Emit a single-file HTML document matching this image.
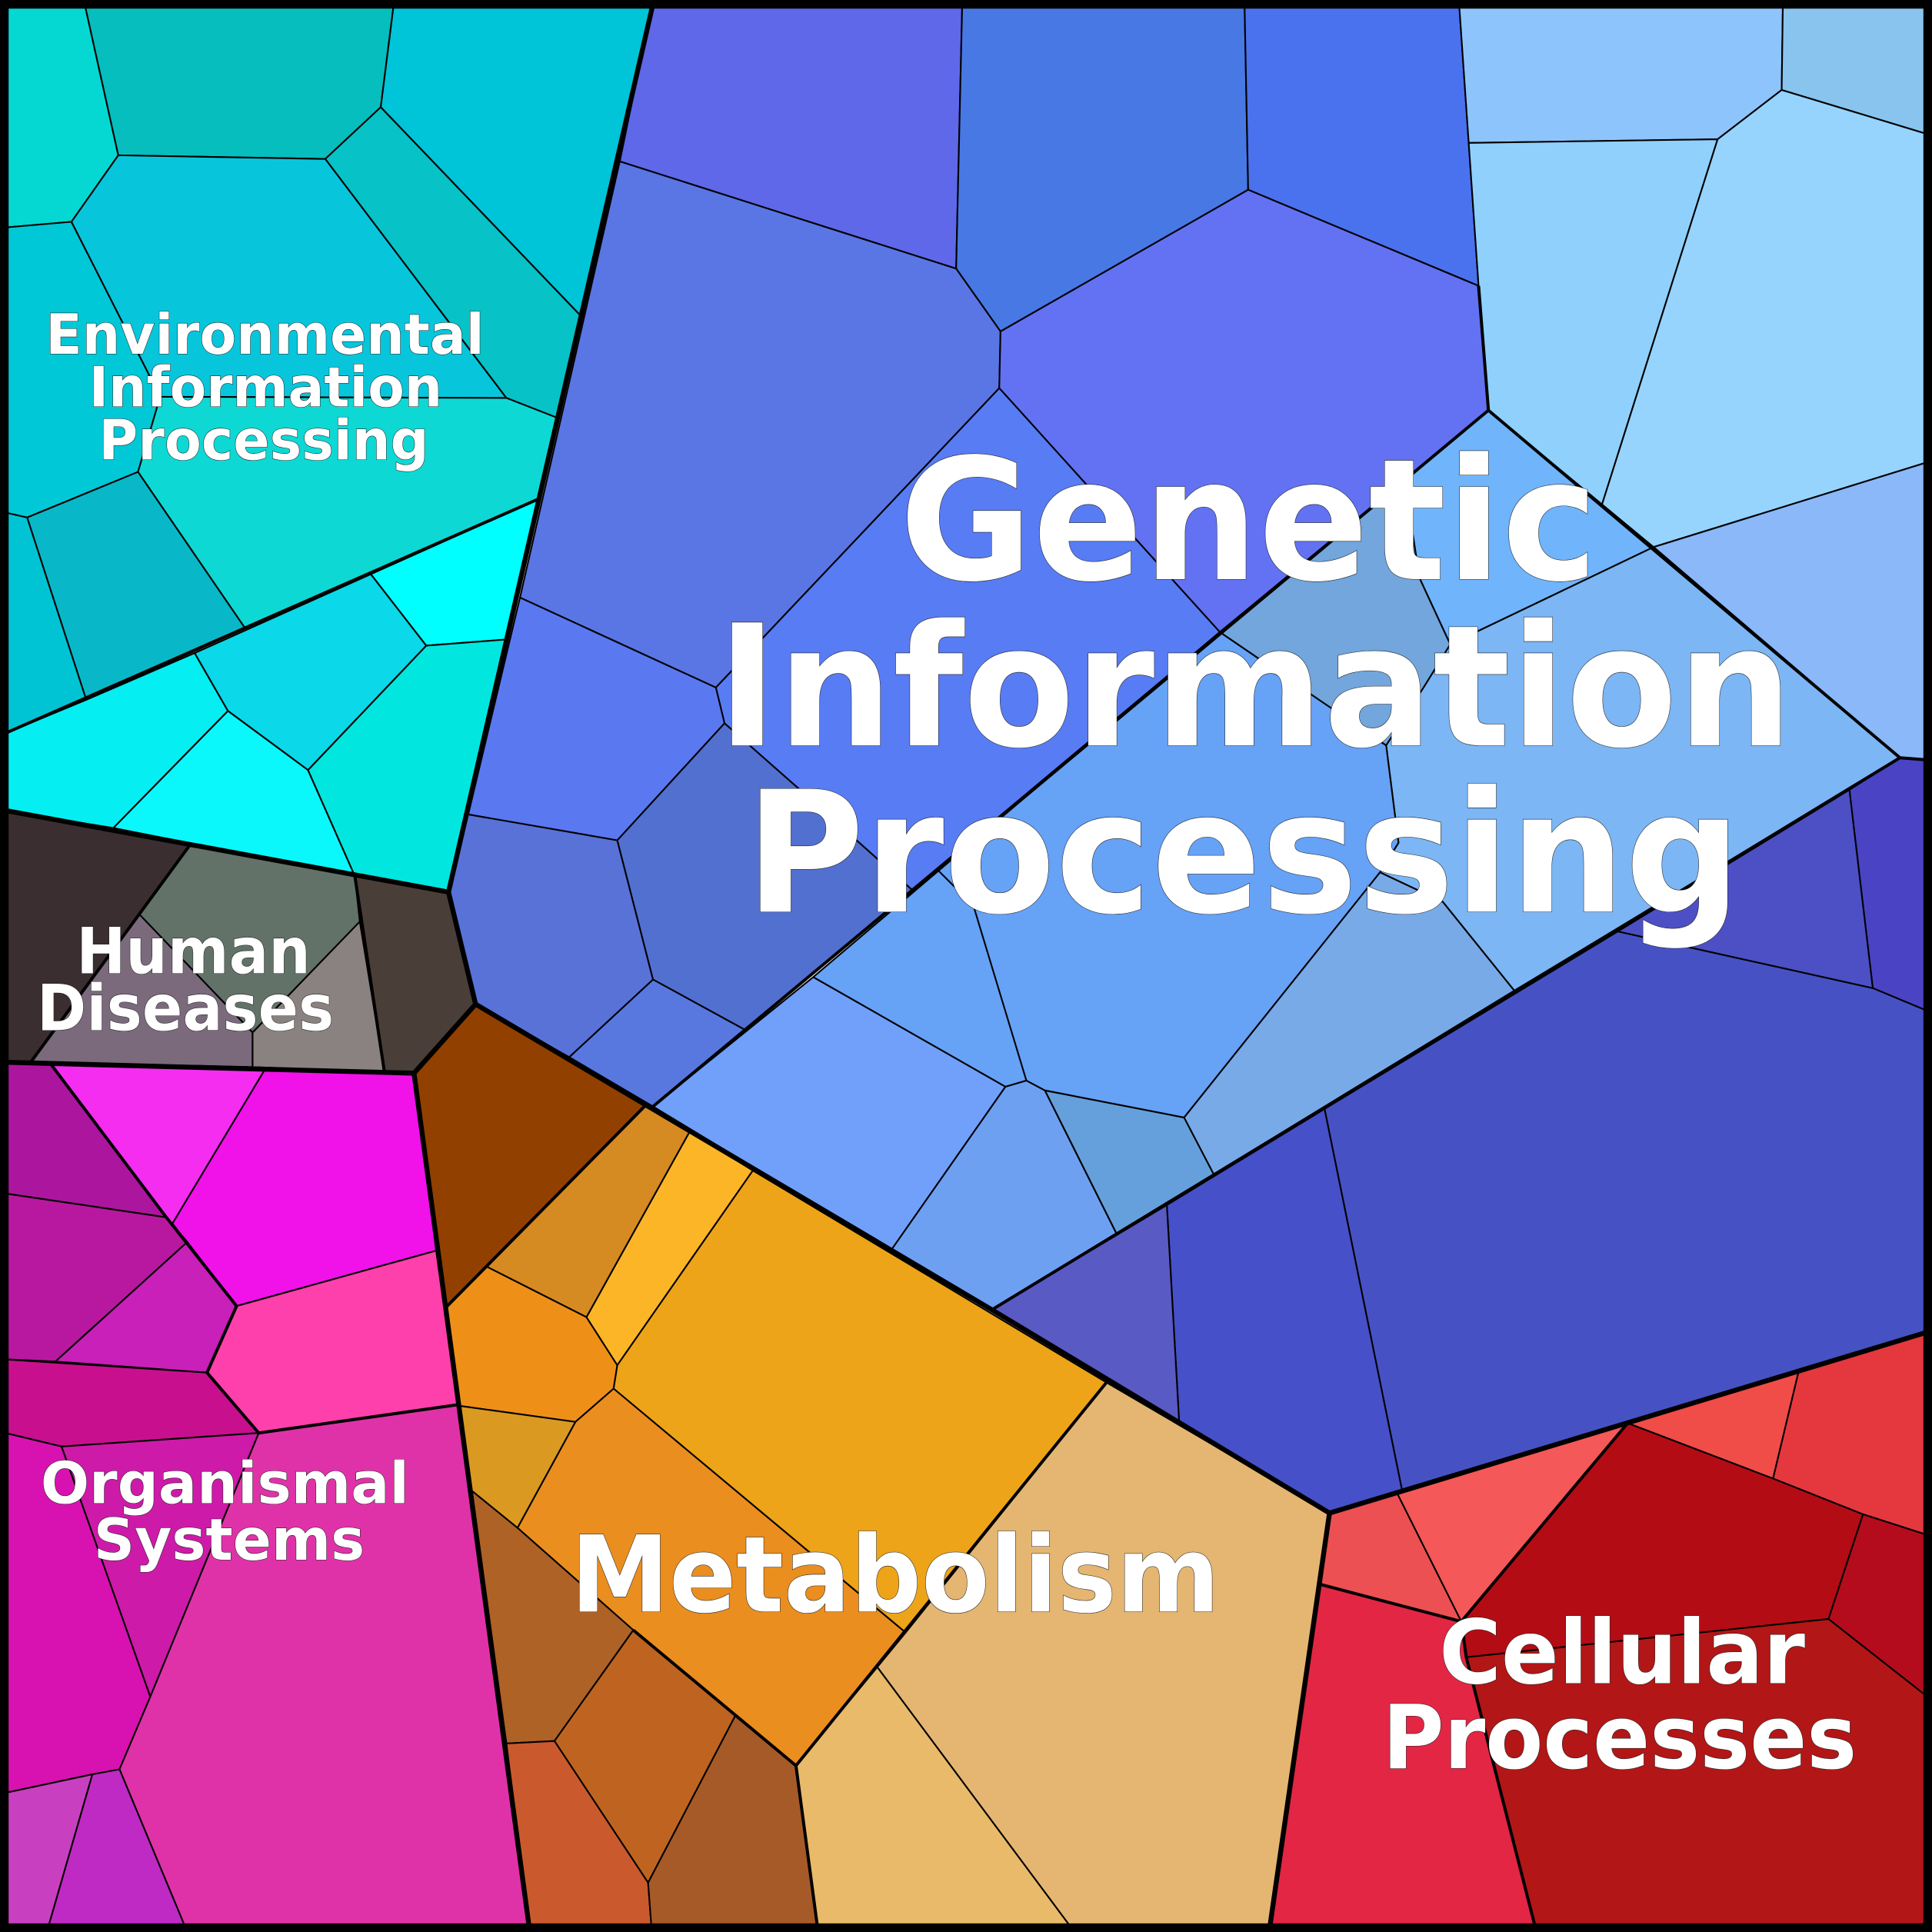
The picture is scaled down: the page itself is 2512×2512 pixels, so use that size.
<!DOCTYPE html>
<html><head><meta charset="utf-8"><style>html,body{margin:0;padding:0;background:#fff}svg{display:block}</style></head><body>
<svg xmlns="http://www.w3.org/2000/svg" width="2512" height="2512" viewBox="0 0 1568 1568">
<g stroke="#000" stroke-width="1.3" stroke-linejoin="round">
<polygon fill="#05d8d2" points="0,0 68,0 96,126 58,180 0,185"/>
<polygon fill="#06bebe" points="68,0 320,0 309,87 264,129 96,126"/>
<polygon fill="#00c4d8" points="320,0 530,0 471,256 309,87"/>
<polygon fill="#00c8d6" points="0,185 58,180 130,322 112,383 22,420 0,415"/>
<polygon fill="#07c6dc" points="58,180 96,126 264,129 411,323 130,322"/>
<polygon fill="#07c2c6" points="264,129 309,87 471,256 452,339 411,323"/>
<polygon fill="#0ed8d4" points="130,322 411,323 452,339 437,405 199,510 112,383"/>
<polygon fill="#08b8c8" points="22,420 112,383 199,510 70,568"/>
<polygon fill="#00c4d4" points="0,415 22,420 70,568 0,597"/>
<polygon fill="#05eef2" points="0,597 70,568 158,530 185,577 92,672 0,657"/>
<polygon fill="#0bd8e8" points="158,530 301,466 346,524 250,625 185,577"/>
<polygon fill="#00ffff" points="301,466 437,405 411,519 346,524"/>
<polygon fill="#0af8fc" points="92,672 185,577 250,625 288,711"/>
<polygon fill="#02e6e0" points="250,625 346,524 411,519 364,724 288,711"/>
<polygon fill="#3a2e30" points="0,657 154,686 25,862 0,862"/>
<polygon fill="#627268" points="154,686 288,711 292,748 205,838 113,742"/>
<polygon fill="#7a6a7c" points="25,862 113,742 205,838 205,866"/>
<polygon fill="#8a8280" points="205,838 292,748 312,870 205,866"/>
<polygon fill="#4a3e38" points="288,711 364,724 386,815 336,871 312,870"/>
<polygon fill="#ac169e" points="0,862 40,862 135,988 0,968"/>
<polygon fill="#f42df0" points="40,862 215,868 140,993 135,988"/>
<polygon fill="#f012e8" points="215,868 336,871 354,1015 192,1060 140,993"/>
<polygon fill="#b8189f" points="0,968 135,988 152,1008 45,1105 0,1103"/>
<polygon fill="#c820b8" points="152,1008 192,1060 168,1114 45,1105"/>
<polygon fill="#fe40ac" points="192,1060 354,1015 372,1140 210,1163 168,1114"/>
<polygon fill="#c8108e" points="0,1103 168,1114 210,1163 50,1174 0,1162"/>
<polygon fill="#d812b0" points="0,1162 50,1174 122,1377 97,1436 0,1456"/>
<polygon fill="#ce1aa8" points="50,1174 210,1163 122,1377"/>
<polygon fill="#e032a8" points="210,1163 372,1140 430,1568 152,1568 97,1436 122,1377"/>
<polygon fill="#c840c0" points="0,1456 75,1440 38,1568 0,1568"/>
<polygon fill="#c02ac4" points="75,1440 97,1436 152,1568 38,1568"/>
<polygon fill="#924000" points="336,871 386,815 524,897 395,1028 362,1061"/>
<polygon fill="#d68a22" points="524,897 560,918 476,1069 395,1028"/>
<polygon fill="#ee9018" points="362,1061 395,1028 476,1069 501,1108 498,1127 467,1154 373,1141"/>
<polygon fill="#fdb528" points="560,918 611,950 501,1108 476,1069"/>
<polygon fill="#eea418" points="611,950 898,1122 735,1325 498,1127 501,1108"/>
<polygon fill="#ea8e20" points="467,1154 498,1127 735,1325 646,1433 514,1323 420,1240"/>
<polygon fill="#e4b672" points="898,1122 1079,1228 1030,1568 872,1568 712,1353 735,1325"/>
<polygon fill="#e8ba6a" points="712,1353 872,1568 664,1568 646,1433"/>
<polygon fill="#da9a22" points="373,1141 467,1154 420,1240 383,1210"/>
<polygon fill="#ae6226" points="383,1210 420,1240 514,1323 450,1413 411,1415"/>
<polygon fill="#be6420" points="450,1413 514,1323 597,1392 526,1528"/>
<polygon fill="#ca5a2e" points="411,1415 450,1413 526,1528 529,1568 430,1568"/>
<polygon fill="#a65a28" points="526,1528 597,1392 646,1433 664,1568 529,1568"/>
<polygon fill="#ec5052" points="1079,1228 1134,1212 1186,1316 1072,1286"/>
<polygon fill="#f45858" points="1134,1212 1321,1155 1186,1316"/>
<polygon fill="#f04c48" points="1321,1155 1460,1112 1439,1200"/>
<polygon fill="#e4383e" points="1460,1112 1568,1080 1568,1247 1512,1229 1439,1200"/>
<polygon fill="#b40c14" points="1321,1155 1439,1200 1512,1229 1484,1314 1190,1345 1186,1316"/>
<polygon fill="#b40c1c" points="1512,1229 1568,1247 1568,1380 1484,1314"/>
<polygon fill="#e22644" points="1072,1286 1186,1316 1190,1345 1247,1568 1030,1568"/>
<polygon fill="#b21616" points="1190,1345 1484,1314 1568,1380 1568,1568 1247,1568"/>
<polygon fill="#5e68e8" points="530,0 781,0 776,218 503,131"/>
<polygon fill="#4878e4" points="781,0 1010,0 1013,154 812,269 776,218"/>
<polygon fill="#4a72ee" points="1010,0 1184,0 1200,232 1013,154"/>
<polygon fill="#8ec4fc" points="1184,0 1447,0 1446,73 1394,113 1192,116"/>
<polygon fill="#88c4ee" points="1447,0 1568,0 1568,110 1446,73"/>
<polygon fill="#90d0fc" points="1192,116 1394,113 1300,410 1208,333 1200,232"/>
<polygon fill="#96d4fe" points="1394,113 1446,73 1568,110 1568,374 1342,444 1300,410"/>
<polygon fill="#8ab8f8" points="1342,444 1568,374 1568,617 1542,615"/>
<polygon fill="#5a76e4" points="503,131 776,218 812,269 811,315 581,558 422,485"/>
<polygon fill="#6272f2" points="812,269 1013,154 1200,232 1208,333 990,513 811,315"/>
<polygon fill="#587cf4" points="811,315 990,513 740,722 647,639 588,587 581,558"/>
<polygon fill="#5a78f0" points="422,485 581,558 588,587 501,682 380,661"/>
<polygon fill="#5872d8" points="380,661 501,682 530,795 462,858 386,815 364,724"/>
<polygon fill="#5270d0" points="501,682 588,587 647,639 740,722 605,836 530,795"/>
<polygon fill="#5878e0" points="462,858 530,795 605,836 530,898"/>
<polygon fill="#70b4fc" points="1208,333 1342,444 1177,523 1152,469 1140,390"/>
<polygon fill="#72a6dc" points="990,513 1140,390 1152,469 1177,523 1156,557 1125,605 1072,569"/>
<polygon fill="#7cb6f4" points="1177,523 1342,444 1542,615 1229,804 1171,732 1120,708 1135,684 1125,605 1156,557"/>
<polygon fill="#66a2f6" points="990,513 1072,569 1125,605 1135,684 1120,708 961,907 848,885 833,877 816,882 660,793"/>
<polygon fill="#78aae8" points="961,907 1120,708 1171,732 1229,804 985,953"/>
<polygon fill="#66a0dc" points="848,885 961,907 985,953 906,1001"/>
<polygon fill="#70a0fa" points="530,898 660,793 816,882 723,1015"/>
<polygon fill="#6ea0f2" points="816,882 833,877 848,885 906,1001 805,1063 723,1015"/>
<polygon fill="#4c50c4" points="1313,756 1501,641 1520,802"/>
<polygon fill="#4a44c4" points="1501,641 1542,615 1568,617 1568,822 1520,802"/>
<polygon fill="#4652c4" points="1075,900 1313,756 1520,802 1568,822 1568,1080 1138,1210"/>
<polygon fill="#4650c8" points="947,978 1075,900 1138,1210 1079,1228 957,1154"/>
<polygon fill="#5a5ac4" points="805,1063 947,978 957,1154"/>
<polyline fill="none" points="760,705 790,735 833,877"/>
</g>
<g fill="none" stroke="#000" stroke-width="2.5" stroke-linejoin="round">
<polyline points="154,686 25,862"/>
<polyline points="288,711 312,870"/>
<polyline points="1542,615 805,1063"/>
<polyline points="1208,333 1542,615 1568,617"/>
<polyline points="1208,333 530,898"/>
<polyline points="1321,1155 1186,1316 1190,1345 1247,1568"/>
<polyline points="1072,1286 1186,1316"/>
<polyline points="898,1122 646,1433 664,1568"/>
<polyline points="646,1433 514,1323"/>
<polyline points="1200,232 1208,333"/>
<polyline points="0,597 437,405"/>
<polyline points="40,862 135,988 192,1060 168,1114 210,1163 372,1140"/>
<polyline points="524,897 362,1061"/>
</g>
<g fill="none" stroke="#000" stroke-width="4" stroke-linejoin="round">
<polyline points="530,3 364,724 386,815 336,871 430,1568"/>
<polyline points="0,657 364,724"/>
<polyline points="0,862 336,871"/>
<polyline points="386,815 805,1063 1079,1228 1030,1568"/>
<polyline points="1079,1228 1568,1080"/>
</g>
<rect x="3.5" y="3.5" width="1561" height="1561" fill="none" stroke="#000" stroke-width="7"/>
<g font-family="'DejaVu Sans','Liberation Sans',sans-serif" font-weight="bold" fill="#fff" stroke="#222" stroke-width="0.7" paint-order="stroke">
<text x="730" y="470" font-size="137" textLength="567" lengthAdjust="spacingAndGlyphs">Genetic</text>
<text x="582" y="605" font-size="137" textLength="873" lengthAdjust="spacingAndGlyphs">Information</text>
<text x="605" y="740" font-size="137" textLength="808" lengthAdjust="spacingAndGlyphs">Processing</text>
<text x="463" y="1308" font-size="86" textLength="527" lengthAdjust="spacingAndGlyphs">Metabolism</text>
<text x="1168" y="1366" font-size="72" textLength="297" lengthAdjust="spacingAndGlyphs">Cellular</text>
<text x="1122" y="1435" font-size="72" textLength="385" lengthAdjust="spacingAndGlyphs">Processes</text>
<text x="37" y="287" font-size="45" textLength="356" lengthAdjust="spacingAndGlyphs">Environmental</text>
<text x="72" y="330" font-size="45" textLength="287" lengthAdjust="spacingAndGlyphs">Information</text>
<text x="80" y="373" font-size="45" textLength="268" lengthAdjust="spacingAndGlyphs">Processing</text>
<text x="62" y="790" font-size="52" textLength="190" lengthAdjust="spacingAndGlyphs">Human</text>
<text x="30" y="836" font-size="52" textLength="241" lengthAdjust="spacingAndGlyphs">Diseases</text>
<text x="33" y="1220" font-size="47" textLength="299" lengthAdjust="spacingAndGlyphs">Organismal</text>
<text x="76" y="1266" font-size="47" textLength="220" lengthAdjust="spacingAndGlyphs">Systems</text>
</g>
</svg>
</body></html>
